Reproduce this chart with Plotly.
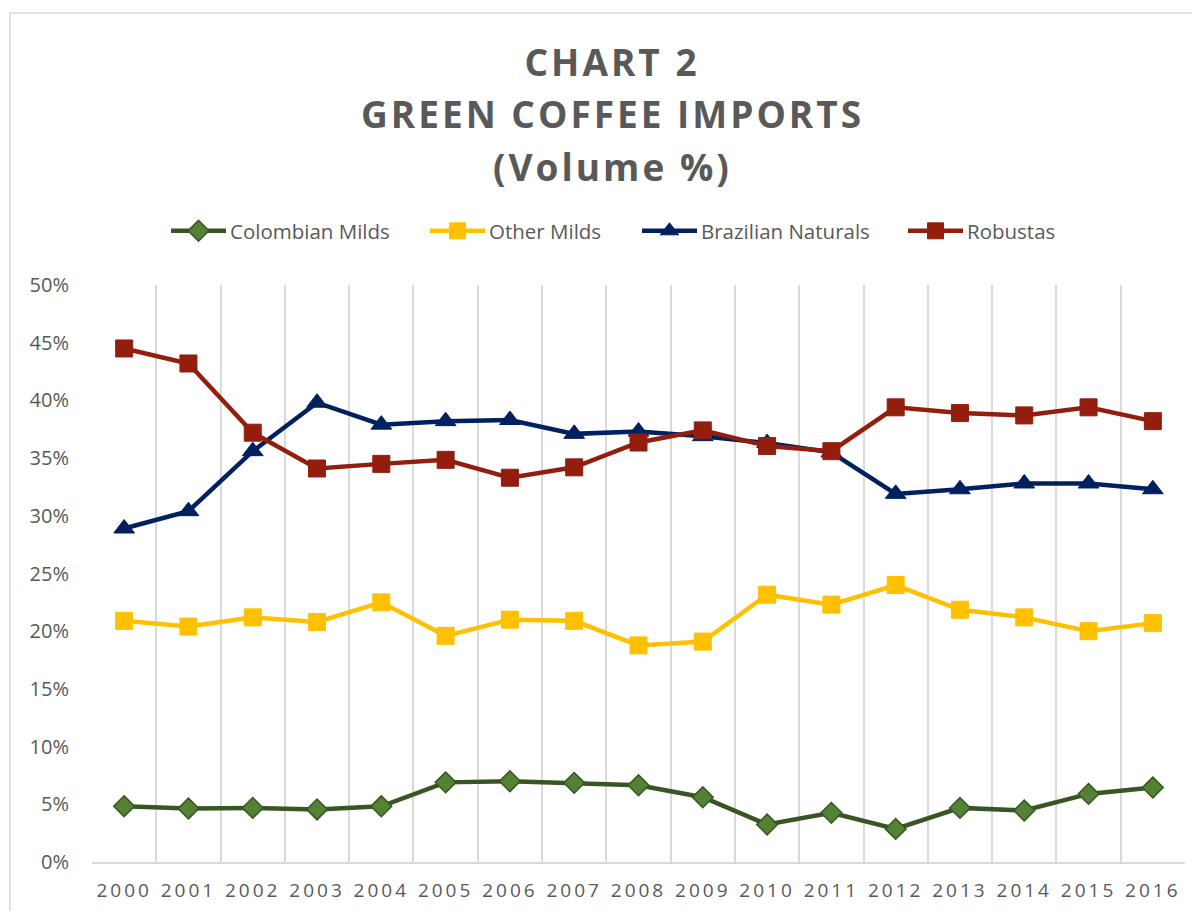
import plotly.graph_objects as go

years = [str(y) for y in range(2000, 2017)]
colombian_milds = [4.83, 4.63, 4.69, 4.55, 4.83, 6.9, 7.0, 6.86, 6.65, 5.61, 3.25, 4.26, 2.87, 4.69, 4.46, 5.9, 6.45]
other_milds = [20.9, 20.4, 21.2, 20.8, 22.5, 19.6, 21.0, 20.9, 18.77, 19.1, 23.16, 22.3, 24.0, 21.86, 21.2, 20.0, 20.7]
brazilian_naturals = [28.9, 30.4, 35.6, 39.8, 37.9, 38.2, 38.3, 37.1, 37.3, 36.9, 36.3, 35.5, 31.9, 32.3, 32.8, 32.8, 32.3]
robustas = [44.5, 43.2, 37.2, 34.1, 34.5, 34.85, 33.3, 34.2, 36.35, 37.4, 36.05, 35.6, 39.4, 38.9, 38.7, 39.4, 38.2]
y_ticks = [0, 5, 10, 15, 20, 25, 30, 35, 40, 45, 50]
title_lines = ["CHART 2", "GREEN COFFEE IMPORTS", "(Volume %)"]

GRAY_TXT = "#595959"
GRID = "#d9d9d9"

# page offset: the html body has an 8px margin
OFF = 8
W, H = 1200 - OFF, 911 - OFF
L, R, T, B = 92 - OFF, 15, 285 - OFF, 49
pw, ph = W - L - R, H - T - B

def px2paper_x(px):
    return (px - OFF - L) / pw

def px2paper_y(py):
    return (H - B - (py - OFF)) / ph

series = [
    ("Colombian Milds", colombian_milds, "#375623", dict(symbol="diamond", size=16, color="#548235", line=dict(color="#375623", width=1.5)), 232),
    ("Other Milds", other_milds, "#FFC000", dict(symbol="square", size=17, color="#FFC000", line=dict(color="#FFC000", width=1)), 491),
    ("Brazilian Naturals", brazilian_naturals, "#002060", dict(symbol="triangle-up", size=18, color="#002060", line=dict(color="#002060", width=1)), 703),
    ("Robustas", robustas, "#941E0E", dict(symbol="square", size=17, color="#941E0E", line=dict(color="#941E0E", width=1)), 969),
]

fig = go.Figure()
legend_layouts = {}
for i, (name, vals, lc, mk, text_x) in enumerate(series):
    lname = "legend" if i == 0 else f"legend{i+1}"
    fig.add_trace(go.Scatter(x=years, y=vals, name=name, mode="lines+markers",
                             line=dict(color=lc, width=4.5), marker=mk, legend=lname))
    legend_layouts[lname] = dict(orientation="h", x=px2paper_x(text_x - 42), xanchor="left",
                                 y=px2paper_y(231), yanchor="middle",
                                 font=dict(family="Open Sans", size=20.5, color=GRAY_TXT),
                                 bgcolor="rgba(0,0,0,0)")

annotations = []
for line, cy in zip(title_lines, [62, 113, 166]):
    annotations.append(dict(text=line, xref="paper", yref="paper", x=px2paper_x(612), y=px2paper_y(cy),
                            xanchor="center", yanchor="middle", showarrow=False,
                            font=dict(family="Open Sans", size=37, color=GRAY_TXT, weight="bold")))

fig.update_layout(
    width=W, height=H,
    margin=dict(l=L, r=R, t=T, b=B, autoexpand=False),
    paper_bgcolor="white", plot_bgcolor="white",
    showlegend=True,
    annotations=annotations,
    shapes=[dict(type="rect", xref="paper", yref="paper", x0=px2paper_x(10), x1=px2paper_x(1215),
                 y0=px2paper_y(925), y1=px2paper_y(13), line=dict(color=GRID, width=1.5), fillcolor="rgba(0,0,0,0)")],
    xaxis=dict(type="category", tickson="boundaries", showgrid=True, gridcolor=GRID, gridwidth=1.5,
               showline=True, linecolor=GRID, linewidth=1.5, ticks="", range=[-0.5, 16.5], automargin=False,
               tickangle=0,
               tickfont=dict(family="Open Sans", size=19, color=GRAY_TXT), ticklabelstandoff=10),
    yaxis=dict(range=[0, 50], tickvals=y_ticks, ticktext=[f"{v}%" for v in y_ticks], showgrid=False,
               zeroline=False, showline=False, ticks="", automargin=False,
               tickfont=dict(family="Open Sans", size=20, color=GRAY_TXT), ticklabelstandoff=22),
    **legend_layouts,
)

post = """
var gd = document.getElementById('{plot_id}');
function restyleText(){
  gd.querySelectorAll('.annotation-text').forEach(function(t){t.style.letterSpacing='3px';});
  gd.querySelectorAll('.xtick text').forEach(function(t){t.style.letterSpacing='3px';});
  gd.querySelectorAll('.scrollbox').forEach(function(s){s.removeAttribute('clip-path');});
  gd.querySelectorAll('.legendlines path').forEach(function(p){p.setAttribute('d','M-19,0h55');});
  gd.querySelectorAll('.legendpoints path').forEach(function(p){p.setAttribute('transform','translate(8.5,0)');});
}
restyleText();
gd.on('plotly_afterplot', restyleText);
"""
fig.write_html("out.html", post_script=post)
